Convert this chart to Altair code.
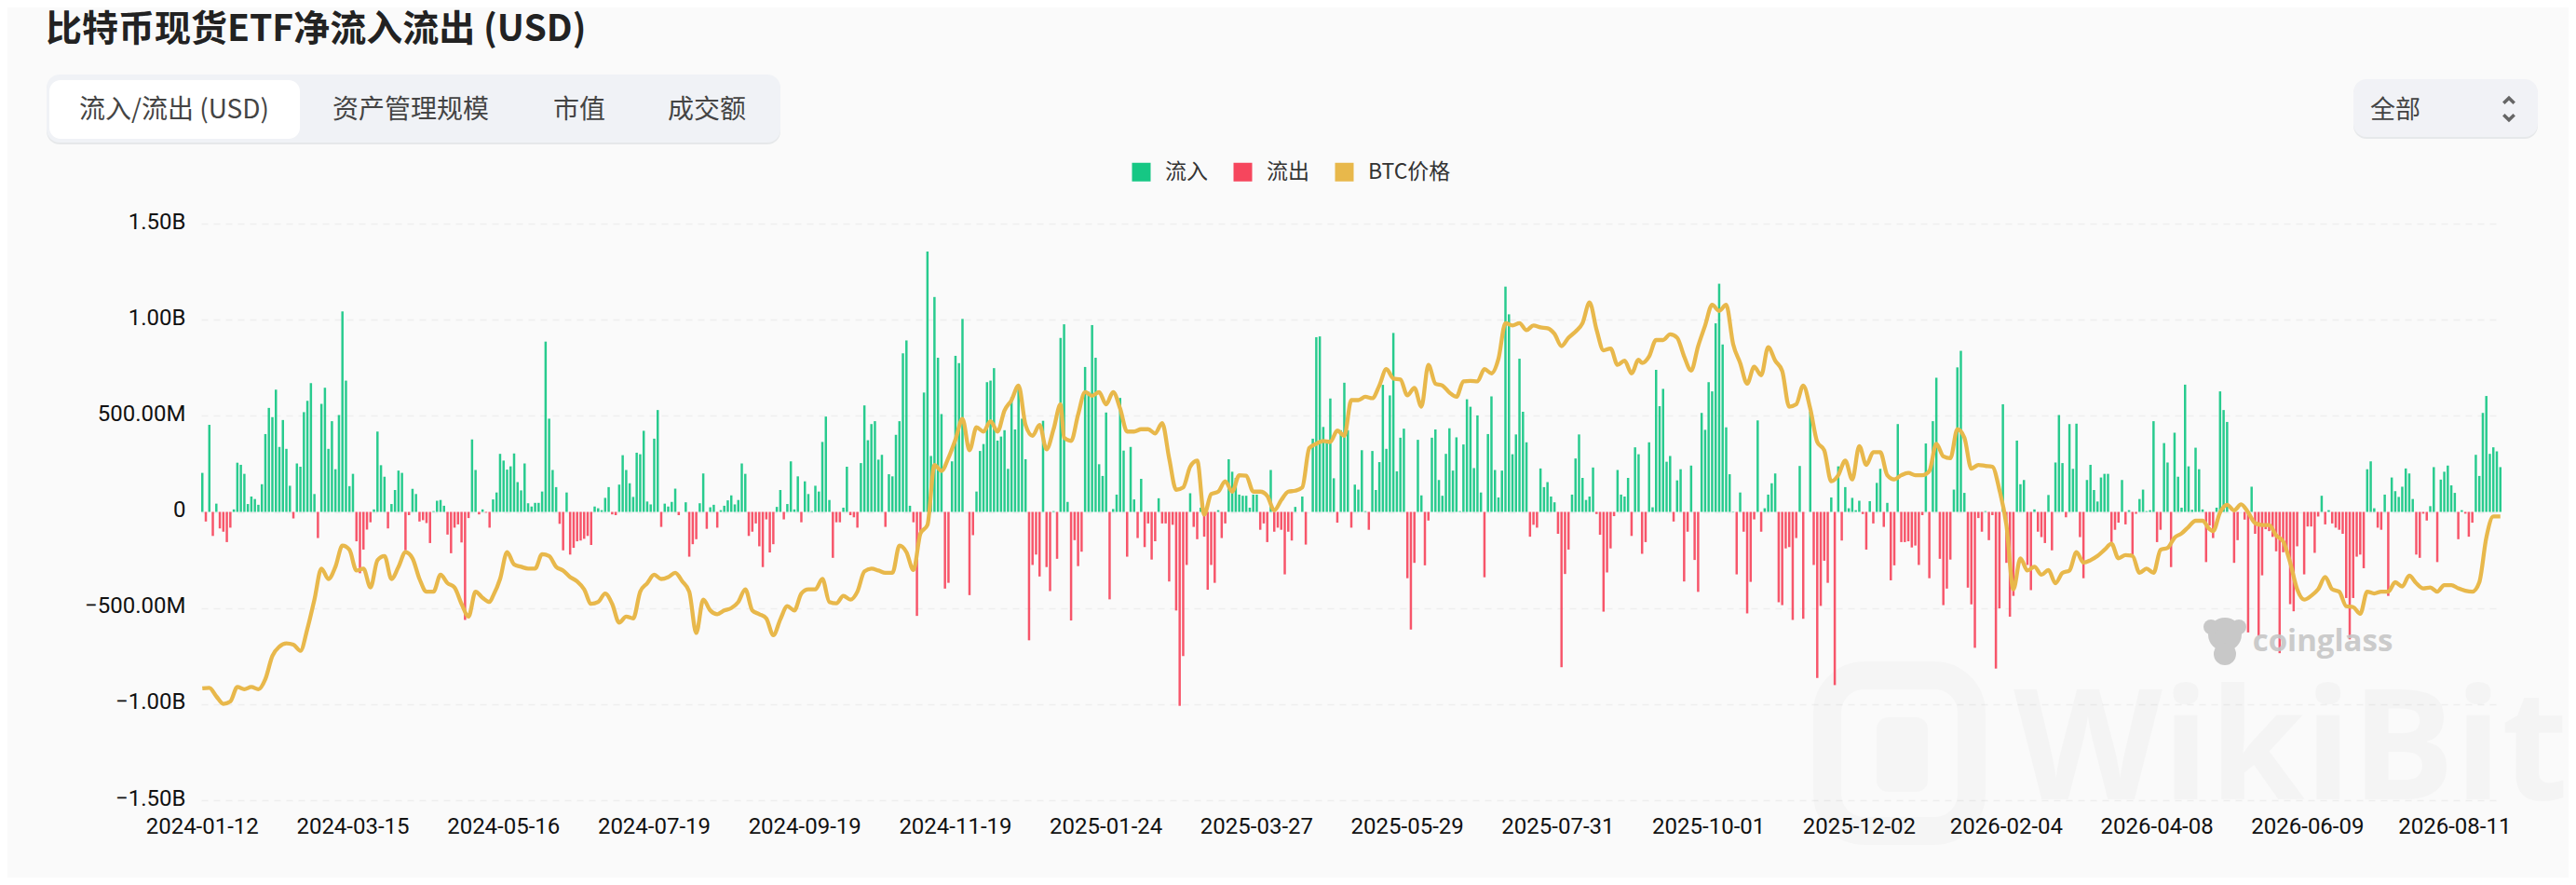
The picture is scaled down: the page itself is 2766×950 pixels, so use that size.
import altair as alt
import pandas as pd

TITLE = "比特币现货ETF净流入流出 (USD)"
tick_labels = ["2024-01-12","2024-03-15","2024-05-16","2024-07-19","2024-09-19","2024-11-19","2025-01-24","2025-03-27",
               "2025-05-29","2025-07-31","2025-10-01","2025-12-02","2026-02-04","2026-04-08","2026-06-09","2026-08-11"]
holidays = ["2024-01-15","2024-02-19","2024-03-29","2024-05-27","2024-06-19","2024-07-04","2024-09-02","2024-11-28","2024-12-25",
            "2025-01-01","2025-01-09","2025-01-20","2025-02-17","2025-04-18","2025-05-26","2025-06-19","2025-07-04","2025-09-01","2025-11-27","2025-12-25",
            "2026-01-01","2026-01-19","2026-02-16","2026-04-03","2026-05-25","2026-06-19","2026-07-03","2026-09-07"]
no_data_days = ["2025-12-26", "2026-07-10"]

# net flow, USD millions, one per trading day
flow_a = [203,-50,453,-125,43,-86,-103,-157,-82,13,256,245,198,41,80,67,37,144,405,541,493,636,338,478,328,136,-34,252,235,519,578,670,93,-136,562,646,328,472,222,504,1043,683,134,198,-153,-319,-196,-92,-54,13,418,243,183,-86,41,114,215,203,-200,-17,120,93,-50,-43,-58,-162,4,58,62,32,-118,-215,-82,-65,-159,-562,-32,377,218,-13,13,-4,-82,65,101,302,267,220,237,304,155,112,252,45,28,47,47,106,886,485,218,129,-62,-200,101,-222,-187,-153,-149,-140,-125,-172,28,19,9,73,129,-13,-17,142,295,218,149,78,308,300,422,54,39,381,530,-78,43,28,52,121,-17,0,50,-233,-168,-142,45,200,-88,24,37,-82,9,32,60,86,39,62,252,198,-125,-103,-60,-179,-287,-39,-211,-168,26,114]
flow_b = [-39,41,263,13,185,-54,159,93,4,136,106,364,496,62,-239,-54,-54,22,235,-17,-28,-82,254,554,373,457,472,272,297,-78,196,185,401,472,825,892,32,-54,-541,-114,621,1355,291,1118,802,509,-399,-369,263,812,774,1004,0,-433,-121,106,317,353,675,683,748,371,392,425,224,597,429,651,485,274,-668,-276,-222,-336,474,-287,-412,4,-244,905,976,52,-565,-147,-282,-207,754,625,972,802,248,187,517,-455,15,90,593,319,-233,338,65,-136,172,-183,-60,-248,-153,71,-60,-60,-362,-67,-513,-1009,-750,-276,97,-78,-142,22,-129,-405,-276,-369,9,-136,-60,274,209,177,90,84,84,22,90,90,-93,-60,-157,218,-103,-82,-93,-325,-103,-149,26,0,80,-170,0,381,909,913,442,360,590,175,-56,425,672,425,-82,142,116,321,4,-93,317,114]
flow_c = [259,661,328,606,931,211,386,433,-345,-612,-265,375,86,-278,-45,386,429,166,84,302,435,215,388,4,351,586,547,228,502,101,-340,405,601,218,75,215,1172,1028,300,403,797,521,362,-129,-67,-82,226,129,155,80,50,-114,-808,-323,-196,90,278,403,177,62,80,231,-11,-119,-519,-315,-190,-22,218,90,80,177,-125,336,300,-218,-157,362,24,739,550,640,261,291,-50,164,222,-362,-103,241,-250,-416,515,427,675,627,981,1187,871,440,196,2,-325,101,-103,-528,-364,-39,476,-103,19,90,149,200,-470,-485,-190,-183,-562,-136,239,-556,0,521,-276,-864,-489,-254,-369,75,-901,237,-149,129,19,73,9,58,-11,-196,56,-60,151,224,-78,47,-356,-278,457,-157,-157,-153,-185,-175,-276,-17,356,-345,472,698,-244,-485,-399,-248,116,752,838,99,-394,-481,-707]
flow_d = [-32,-103,4,-147,-17,-815,-502,560,-265,-545,-437,371,144,166,-276,-407,13,-103,-131,-162,88,-200,257,504,254,-28,457,224,459,-131,-345,166,245,114,54,179,198,198,-157,-93,-56,166,-65,9,-222,-10,67,116,4,9,472,-157,-93,358,257,-287,412,183,22,662,237,11,334,222,13,-261,-71,-136,22,627,530,468,0,-265,-147,0,-40,-627,131,-114,-646,-330,-90,-100,-130,-205,-735,-210,-200,-480,-517,-179,0,-325,-76,-76,-213,-24,84,-65,9,-60,-82,-93,-114,-448,-663,-448,-233,-222,-293,222,263,19,-82,-93,90,-437,179,108,78,131,226,200,67,-222,-239,-9,-45,30,233,-261,168,209,241,138,99,-142,9,-9,-129,-56,297,187,515,603,302,336,315,233]

# BTC price, USD thousands, read at even steps along the time axis
price_a = [43.1,43.2,41.4,39.8,40.3,43.4,42.9,43.4,42.9,45.1,50.0,52.0,52.7,52.4,51.1,55.8,62.0,68.6,66.4,69.0,73.5,72.6,68.2,68.6,64.6,70.4,71.3,66.4,69.0,72.1,70.8,66.4,63.7,63.7,67.3,65.5,64.6,61.1,58.4,63.7,62.4,61.5,62.8,66.4,72.1,69.5,69.0,68.6,68.6,71.7,71.3,69.0,68.2,66.8,65.9,64.2,61.1,61.5,63.3,61.1,57.1,58.4,58.0,63.7,65.5,67.3,66.4,66.8,67.7,65.9,63.7,54.9,62.0,59.7,58.9,59.7,60.2,61.5,64.2,59.7,58.9,58.0,54.4]
price_b = [57.8,60.6,59.7,63.3,64.2,64.2,66.4,61.5,61.2,62.8,62.0,63.7,68.0,68.6,68.2,67.7,67.7,73.5,72.1,68.3,76.1,77.9,90.7,89.4,92.2,96.1,100.5,93.8,98.7,97.8,100.0,97.8,102.3,104.5,107.6,99.2,96.9,99.2,94.0,98.3,103.6,96.5,95.8,101.4,106.2,105.4,106.2,103.6,106.2,102.7,97.8,97.8,98.3,98.3,97.4,99.6,92.1,85.4,85.9,90.3,91.6,80.1,84.5,85.0,87.2,85.0,88.5,88.4,85.0,85.0,84.1,81.0,83.2,85.0,85.2,85.9,94.3,95.2,95.8,95.6,98.0,96.9,104.5,104.5,105.2,104.9]
price_c = [107.6,111.1,109.1,108.9,105.5,107.1,103.1,112.0,108.0,107.6,106.1,105.2,108.5,108.6,108.5,111.1,110.2,113.3,120.9,120.4,120.9,119.4,120.4,120.0,119.8,118.6,116.0,117.8,119.1,120.9,125.3,119.5,115.1,115.5,112.0,112.9,110.2,113.1,112.4,113.8,117.3,117.3,118.5,117.8,113.8,110.8,116.0,120.4,124.8,123.5,124.8,116.4,112.4,108.0,111.6,109.8,115.8,112.9,110.7,103.1,103.6,107.6,102.7,95.6,93.8,87.2,88.5,91.6,87.6,94.7,90.7,93.4,93.4,88.5,87.6,88.5,89.0,88.5,88.5,89.4,95.2,92.5,92.1,98.3,96.5,89.9]
price_d = [90.7,90.5,90.3,85.4,77.9,64.2,70.8,68.2,69.0,67.3,68.3,65.5,67.7,68.2,72.1,69.9,70.4,71.3,72.6,73.9,70.8,71.5,71.3,67.7,68.6,67.7,72.6,73.0,75.2,76.1,77.5,78.8,78.8,77.0,76.6,80.6,82.2,81.0,82.3,80.6,78.3,77.9,77.9,75.7,74.4,69.9,64.2,62.0,62.8,64.2,66.8,64.2,63.7,60.6,60.4,59.0,63.7,63.3,63.7,63.7,65.7,64.8,67.1,65.5,64.4,64.6,63.7,65.1,65.1,64.4,63.9,63.7,65.7,75.2,79.7,79.7]

flows = flow_a + flow_b + flow_c + flow_d
prices = price_a + price_b + price_c + price_d
N = len(flows)
M = len(prices)

skip = set(holidays) | set(no_data_days)
days = [d for d in pd.bdate_range("2024-01-12", periods=N + 60).strftime("%Y-%m-%d") if d not in skip][:N]

IN, OUT, BTC = "流入", "流出", "BTC价格"
bars_df = pd.DataFrame({"date": days, "flow": flows, "s": [IN if v >= 0 else OUT for v in flows]})
line_df = pd.DataFrame({"date": [days[round(i * (N - 1) / (M - 1))] for i in range(M)], "price": prices, "s": BTC})

CJK = "Noto Sans CJK SC"
NUM = "Roboto"
colors = alt.Scale(domain=[IN, OUT, BTC], range=["#16c784", "#f6465d", "#e8b84b"])
xenc = alt.X("date:N", sort=None, title=None,
             scale=alt.Scale(domain=days, paddingInner=0.34, paddingOuter=0),
             axis=alt.Axis(values=tick_labels, labelAngle=0, labelFont=NUM, labelFontSize=24, labelColor="#111",
                           labelPadding=16, ticks=False, domain=False, grid=False, labelOverlap=False, labelFlush=False, zindex=1))
bars = alt.Chart(bars_df).mark_bar(opacity=0.92).encode(
    x=xenc,
    y=alt.Y("flow:Q", stack=None, title=None,
            scale=alt.Scale(domain=[-1500, 1500], nice=False),
            axis=alt.Axis(values=[-1500, -1000, -500, 0, 500, 1000, 1500],
                          labelExpr="datum.value==0?'0':(abs(datum.value)>=1000?format(datum.value/1000,'.2f')+'B':format(datum.value,'.2f')+'M')",
                          labelFont=NUM, labelFontSize=24, labelColor="#111", labelPadding=17, labelOffset=-2, ticks=False, domain=False,
                          grid=True, gridColor="#eeeeee", gridWidth=1.5, gridDash=[7, 6])),
    color=alt.Color("s:N", scale=colors, title=None,
                    legend=alt.Legend(orient="none", legendX=998, legendY=-67, direction="horizontal", columns=3,
                                      symbolType="square", symbolSize=400, symbolStrokeWidth=0, symbolOpacity=1,
                                      labelFont=CJK, labelFontSize=23, labelColor="#333", labelOffset=14, columnPadding=26)),
)
line = alt.Chart(line_df).mark_line(strokeWidth=4.3, interpolate="monotone").encode(
    x=alt.X("date:N", sort=None, title=None, scale=alt.Scale(domain=days, paddingInner=0.34, paddingOuter=0)),
    y=alt.Y("price:Q", title=None, axis=None, scale=alt.Scale(domain=[19.27, 142.1], nice=False)),
    color=alt.Color("s:N", scale=colors, legend=None),
)

blank = pd.DataFrame({"a": [0]})
OX, OY = 216, 240

def box(x0, y0, x1, y1, fill, r=12, **kw):
    return alt.Chart(blank).mark_rect(fill=fill, cornerRadius=r, **kw).encode(
        x=alt.value(x0 - OX), x2=alt.value(x1 - OX), y=alt.value(y0 - OY), y2=alt.value(y1 - OY))

def ring(x0, y0, x1, y1, width, r):
    return alt.Chart(blank).mark_rect(fillOpacity=0, stroke="#000000", strokeOpacity=0.018, strokeWidth=width, cornerRadius=r).encode(
        x=alt.value(x0 - OX), x2=alt.value(x1 - OX), y=alt.value(y0 - OY), y2=alt.value(y1 - OY))

def label(s, x, y, size, color="#444", font=CJK, align="center", weight="normal", **kw):
    return alt.Chart(blank).mark_text(text=s, font=font, fontSize=size, color=color, align=align, baseline="middle",
                                      fontWeight=weight, **kw).encode(x=alt.value(x - OX), y=alt.value(y - OY))

def dot(x, y, d, color="#c8c8c8"):
    return alt.Chart(blank).mark_point(filled=True, size=d * d, color=color, opacity=1, shape="circle").encode(
        x=alt.value(x - OX), y=alt.value(y - OY))

def chevron(path, x, y):
    return alt.Chart(blank).mark_point(shape=path, filled=False, size=130, color="#666666", strokeWidth=3.5, opacity=1).encode(
        x=alt.value(x - OX), y=alt.value(y - OY))

wiki_under = [
    ring(1962, 725, 2117, 892, 30, 40),
    box(2015, 770, 2070, 850, "#000000", r=12, opacity=0.018),
    label("WikiBit", 2460, 808, 165, color="#000000", font="Open Sans", weight="bold", opacity=0.02),
]
chrome = [
    label(TITLE, 49, 32, 39, color="#222222", align="left", weight="bold"),
    box(50, 82, 838, 155, "#e6e8ea", r=14),
    box(50, 80, 838, 153, "#f0f2f6", r=14),
    box(53, 86, 322, 149, "#ffffff", r=12),
    label("流入/流出 (USD)", 187, 119, 28),
    label("资产管理规模", 441, 119, 28),
    label("市值", 622, 119, 28),
    label("成交额", 759, 119, 28),
    box(2527, 87, 2725, 149, "#e6e8ea", r=14),
    box(2527, 85, 2725, 147, "#f1f2f6", r=14),
    label("全部", 2572, 119, 27),
    chevron("M-1,0.5 L0,-0.5 L1,0.5", 2694, 108),
    chevron("M-1,-0.5 L0,0.5 L1,-0.5", 2694, 126),
]
coinglass = [
    dot(2389, 681, 36), dot(2389, 702, 24), dot(2374, 673, 16), dot(2404, 673, 16),
    label("coinglass", 2494, 689, 33, color="#c6c6c6", font="Open Sans", weight="bold", opacity=0.9),
]

chart = alt.layer(*wiki_under, bars, line, *coinglass, *chrome).resolve_scale(y="independent").properties(
    width=2470, height=619, background="#fafafa",
    padding={"left": 208, "top": 232, "right": 72, "bottom": 83},
    autosize=alt.AutoSizeParams(type="none"),
).configure_view(stroke=None)

chart.save("out.html", embed_options={"renderer": "svg", "actions": False})
